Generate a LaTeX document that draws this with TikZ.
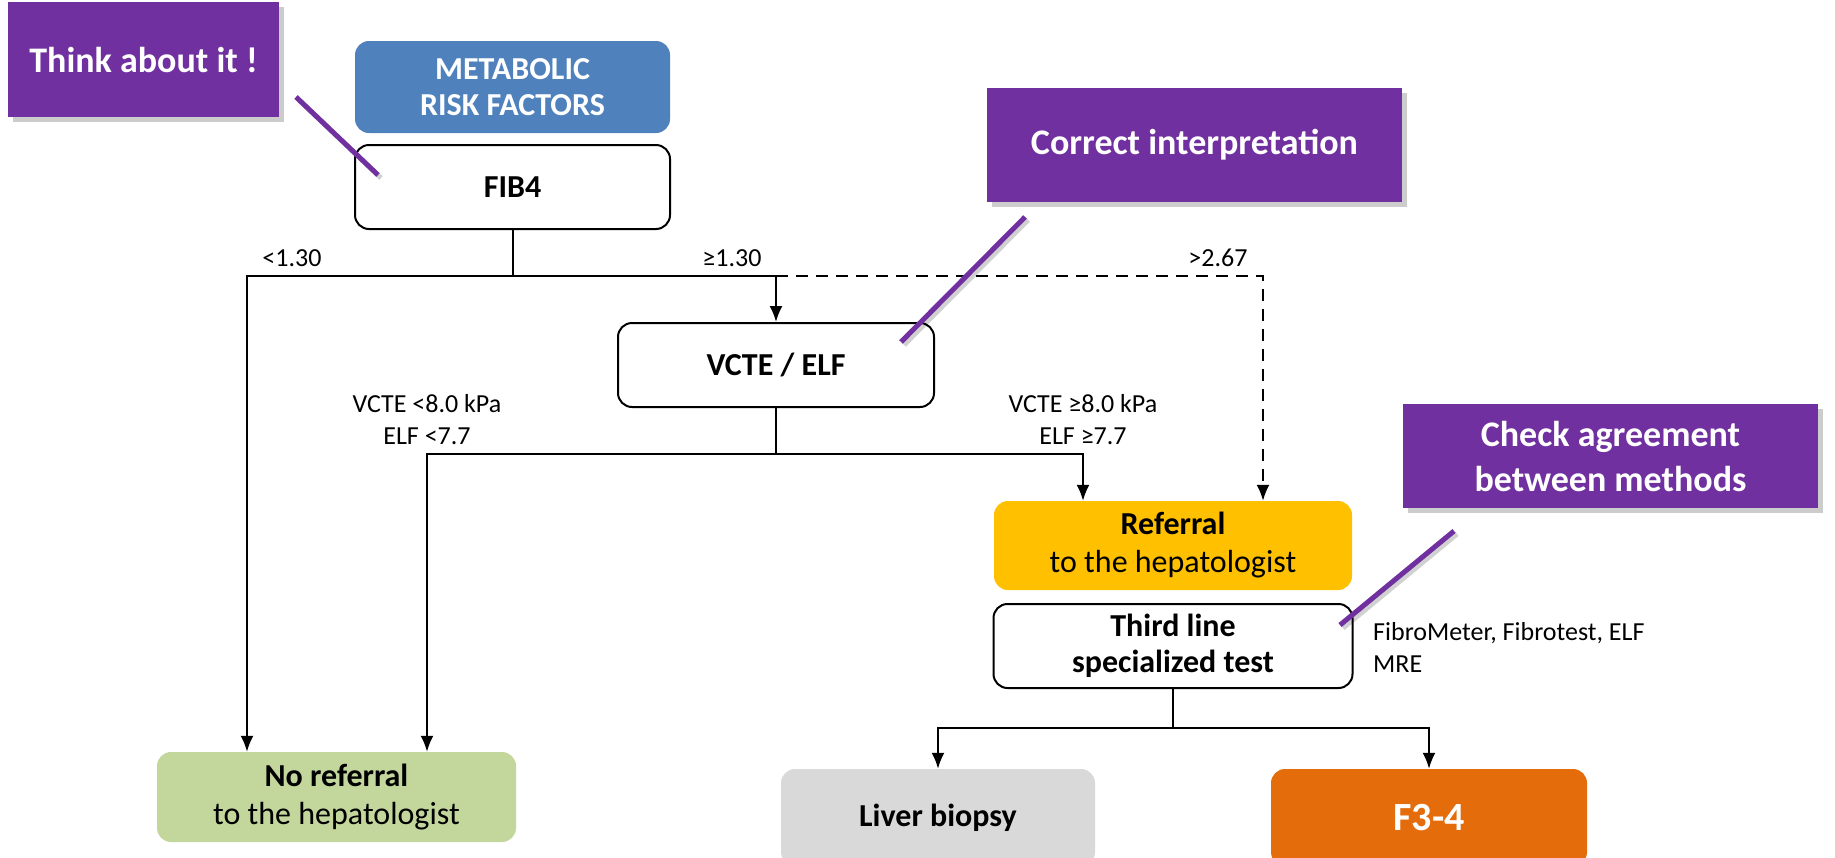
\documentclass[tikz,border=0pt]{standalone}
\usepackage{fontspec}
\setmainfont{Carlito}
\usetikzlibrary{arrows.meta,shadows}
\definecolor{purp}{HTML}{7030A0}
\definecolor{blu}{HTML}{4F81BD}
\definecolor{yel}{HTML}{FFC000}
\definecolor{grn}{HTML}{C3D69B}
\definecolor{gry}{HTML}{D9D9D9}
\definecolor{org}{HTML}{E46C0A}
\begin{document}
\begin{tikzpicture}[x=1pt,y=-1pt,
  box/.style={rounded corners=14pt, align=center, inner sep=0pt, font=\fontsize{32pt}{38pt}\selectfont},
  boldbox/.style={box, font=\bfseries\fontsize{32pt}{36pt}\selectfont},
  wbox/.style={boldbox, draw=black, line width=2pt, fill=white},
  pbox/.style={fill=purp, text=white, align=center, inner sep=0pt, font=\bfseries\fontsize{36pt}{45pt}\selectfont,
    drop shadow={shadow xshift=5pt, shadow yshift=-5pt, fill=black, opacity=0.2}},
  lbl/.style={font=\fontsize{26pt}{32pt}\selectfont, align=center, inner sep=0pt},
  conn/.style={line width=2pt, draw=black},
  arr/.style={conn, -{Latex[length=16pt,width=13pt]}},
  dashline/.style={dash pattern=on 12pt off 8pt},
  pline/.style={draw=purp, line width=5pt},
  pshadow/.style={draw=black, opacity=0.18, line width=5pt},
]
\useasboundingbox (0,0) rectangle (1835,857);
\clip (0,0) rectangle (1835,857);

% nodes
\node[pbox, minimum width=271pt, minimum height=115pt] (think) at (143.5,59.5) {Think about it !};
\node[boldbox, fill=blu, text=white, minimum width=315pt, minimum height=92pt] (meta) at (512.5,87) {METABOLIC\\RISK FACTORS};
\node[wbox, minimum width=315pt, minimum height=84pt] (fib) at (512.5,187) {FIB4};
\node[pbox, minimum width=415pt, minimum height=114pt] (corr) at (1194.5,145) {Correct interpretation};
\node[wbox, minimum width=316pt, minimum height=84pt] (vcte) at (776,365) {VCTE / ELF};
\node[box, fill=yel, minimum width=358pt, minimum height=89pt] (ref) at (1173,545.5) {\textbf{Referral}\\to the hepatologist};
\node[wbox, minimum width=359pt, minimum height=84pt] (third) at (1173,646) {Third line\\specialized test};
\node[pbox, minimum width=415pt, minimum height=104pt] (check) at (1610.5,456) {Check agreement\\between methods};
\node[lbl, anchor=west, align=left] (fibro) at (1373,647) {FibroMeter, Fibrotest, ELF\\MRE};
\node[box, fill=grn, minimum width=359pt, minimum height=90pt] (noref) at (336.5,797) {\textbf{No referral}\\to the hepatologist};
\node[boldbox, fill=gry, minimum width=314pt, minimum height=97pt] (liver) at (938,817.5) {Liver biopsy};
\node[box, fill=org, text=white, font=\bfseries\fontsize{40pt}{46pt}\selectfont, minimum width=316pt, minimum height=97pt] (f34) at (1429,817.5) {F3-4};

% labels
\node[lbl] (l1) at (292,258) {<1.30};
\node[lbl] (l2) at (732,258) {≥1.30};
\node[lbl] (l3) at (1218,258) {>2.67};
\node[lbl] (l4) at (427,420) {VCTE <8.0 kPa\\ELF <7.7};
\node[lbl] (l5) at (1083,420) {VCTE ≥8.0 kPa\\ELF ≥7.7};

% connectors
\coordinate (j1) at (512.5,276);
\coordinate (jL) at (247,276);
\coordinate (jM) at (776,276);
\coordinate (jR) at (1263,276);
\draw[conn] (fib.south) -- (j1);
\draw[arr] (j1) -- (jL) -- (jL |- noref.north);
\draw[arr] (j1) -- (jM) -- (vcte.north);
\draw[arr, dashline] (jM) -- (jR) -- (jR |- ref.north);

\coordinate (j2) at (776,454);
\coordinate (j2L) at (427,454);
\coordinate (j2R) at (1083,454);
\draw[conn] (vcte.south) -- (j2);
\draw[arr] (j2) -- (j2L) -- (j2L |- noref.north);
\draw[arr] (j2) -- (j2R) -- (j2R |- ref.north);

\coordinate (j3) at (1173,728);
\draw[conn] (third.south) -- (j3);
\draw[arr] (j3) -| (liver.north);
\draw[arr] (j3) -| (f34.north);

% callout pointers
\coordinate (p1a) at (296,97);
\coordinate (p1b) at (378,175);
\coordinate (p2a) at (1025,217);
\coordinate (p2b) at (901,342);
\coordinate (p3a) at (1454,531);
\coordinate (p3b) at (1340,625);
\draw[pshadow] ([shift={(3,3)}]p1a) -- ([shift={(3,3)}]p1b);
\draw[pshadow] ([shift={(3,3)}]p2a) -- ([shift={(3,3)}]p2b);
\draw[pshadow] ([shift={(3,3)}]p3a) -- ([shift={(3,3)}]p3b);
\draw[pline] (p1a) -- (p1b);
\draw[pline] (p2a) -- (p2b);
\draw[pline] (p3a) -- (p3b);
\end{tikzpicture}
\end{document}
